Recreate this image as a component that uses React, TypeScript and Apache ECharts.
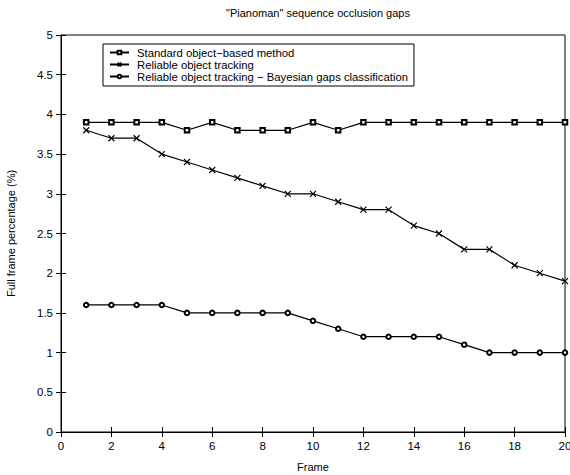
import React, { useEffect, useRef } from "react";
import * as echarts from "echarts";

const frames = [1,2,3,4,5,6,7,8,9,10,11,12,13,14,15,16,17,18,19,20];
const standardMethod = [3.9,3.9,3.9,3.9,3.8,3.9,3.8,3.8,3.8,3.9,3.8,3.9,3.9,3.9,3.9,3.9,3.9,3.9,3.9,3.9];
const reliableTracking = [3.8,3.7,3.7,3.5,3.4,3.3,3.2,3.1,3.0,3.0,2.9,2.8,2.8,2.6,2.5,2.3,2.3,2.1,2.0,1.9];
const bayesianTracking = [1.6,1.6,1.6,1.6,1.5,1.5,1.5,1.5,1.5,1.4,1.3,1.2,1.2,1.2,1.2,1.1,1.0,1.0,1.0,1.0];
const seriesNames = [
  "Standard object\u2212based method",
  "Reliable object tracking",
  "Reliable object tracking \u2212 Bayesian gaps classification",
];

const FONT = "Liberation Sans, Arial, sans-serif";
const crossSymbol = "path://M0,0L10,10M10,0L0,10";

export default function App() {
  const ref = useRef<HTMLDivElement>(null);
  useEffect(() => {
    if (!ref.current) return;
    const chart = echarts.init(ref.current, null, { renderer: "svg" });
    const zip = (ys: number[]) => frames.map((f, i) => [f, ys[i]]);
    const tickStyle = { show: true, inside: true, length: 5, lineStyle: { color: "#000" } };
    const labelStyle = { fontSize: 11.5, color: "#000", fontFamily: FONT, margin: 8 };
    const lineBase = {
      type: "line",
      lineStyle: { color: "#000", width: 1.2 },
      itemStyle: { color: "#000", borderColor: "#000", borderWidth: 1.2 },
      symbolSize: 4.5,
      emphasis: { disabled: true },
    };
    chart.setOption({
      animation: false,
      backgroundColor: "#fff",
      textStyle: { fontFamily: FONT, color: "#000" },
      title: {
        text: '"Pianoman" sequence occlusion gaps',
        left: 313,
        textAlign: "center",
        top: 2,
        textStyle: { fontSize: 11, fontWeight: "normal", color: "#000", fontFamily: FONT },
      },
      grid: {
        left: 61, right: 5, top: 35, bottom: 43,
        outerBoundsMode: "none", containLabel: false,
        show: true, borderColor: "#000", borderWidth: 1,
      },
      legend: {
        orient: "vertical",
        left: 103,
        top: 44,
        borderColor: "#000",
        borderWidth: 1,
        padding: [3, 6, 4, 6],
        itemGap: 1,
        itemWidth: 19,
        itemHeight: 4.5,
        textStyle: { fontSize: 11.3, color: "#000", fontFamily: FONT, padding: [0, 0, 0, 3] },
        data: seriesNames,
      },
      xAxis: [
        {
          type: "value", min: 0, max: 20, interval: 2,
          name: "Frame", nameLocation: "middle", nameGap: 29,
          nameTextStyle: { fontSize: 11, color: "#000", fontFamily: FONT },
          axisLine: { show: true, lineStyle: { color: "#000" } },
          axisTick: tickStyle,
          axisLabel: labelStyle,
          splitLine: { show: false },
        },
        {
          type: "value", min: 0, max: 20, interval: 2, position: "top",
          axisLine: { show: true, lineStyle: { color: "#000" } },
          axisTick: tickStyle,
          axisLabel: { show: false },
          splitLine: { show: false },
        },
      ],
      yAxis: [
        {
          type: "value", min: 0, max: 5, interval: 0.5,
          name: "Full frame percentage (%)", nameLocation: "middle", nameGap: 45, nameRotate: 90,
          nameTextStyle: { fontSize: 11, color: "#000", fontFamily: FONT },
          axisLine: { show: true, lineStyle: { color: "#000" } },
          axisTick: tickStyle,
          axisLabel: labelStyle,
          splitLine: { show: false },
        },
        {
          type: "value", min: 0, max: 5, interval: 0.5, position: "right",
          axisLine: { show: true, lineStyle: { color: "#000" } },
          axisTick: tickStyle,
          axisLabel: { show: false },
          splitLine: { show: false },
        },
      ],
      series: [
        { ...lineBase, name: seriesNames[0], symbol: "emptyRect", data: zip(standardMethod) },
        { ...lineBase, name: seriesNames[1], symbol: crossSymbol, symbolSize: 6, data: zip(reliableTracking) },
        { ...lineBase, name: seriesNames[2], symbol: "emptyCircle", data: zip(bayesianTracking) },
      ],
    });
    return () => chart.dispose();
  }, []);
  return <div ref={ref} style={{ width: 570, height: 475, position: "absolute", left: 0, top: 0 }} />;
}
